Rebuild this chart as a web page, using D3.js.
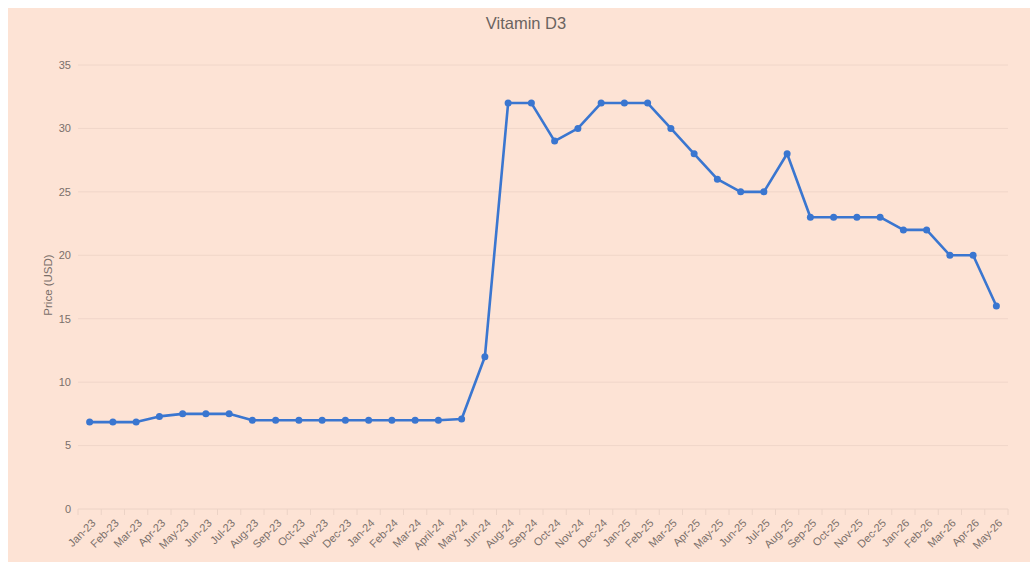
<!DOCTYPE html>
<html>
<head>
<meta charset="utf-8">
<script src="https://cdn.jsdelivr.net/npm/d3@7"></script>
<style>
  body { margin: 0; background: #fff; }
  text { font-family: "Liberation Sans", Arial, sans-serif; }
</style>
</head>
<body>
<script>
var months = ["Jan-23", "Feb-23", "Mar-23", "Apr-23", "May-23", "Jun-23", "Jul-23", "Aug-23",
  "Sep-23", "Oct-23", "Nov-23", "Dec-23", "Jan-24", "Feb-24", "Mar-24", "April-24", "May-24",
  "Jun-24", "Aug-24", "Sep-24", "Oct-24", "Nov-24", "Dec-24", "Jan-25", "Feb-25", "Mar-25",
  "Apr-25", "May-25", "Jun-25", "Jul-25", "Aug-25", "Sep-25", "Oct-25", "Nov-25", "Dec-25",
  "Jan-26", "Feb-26", "Mar-26", "Apr-26", "May-26"];

var prices = [6.85, 6.85, 6.85, 7.3, 7.5, 7.5, 7.5, 7, 7, 7, 7, 7, 7, 7, 7, 7, 7.1,
  12, 32, 32, 29, 30, 32, 32, 32, 30, 28, 26, 25, 25, 28, 23, 23, 23, 23, 22, 22, 20, 20, 16];

var yTicks = [0, 5, 10, 15, 20, 25, 30, 35];

var width = 1030,
    height = 562,
    plotLeft = 78, plotRight = 1008, plotTop = 65, plotBottom = 509;

var svg = d3.select("body").append("svg")
    .attr("width", width)
    .attr("height", height);

svg.append("rect")
    .attr("x", 8)
    .attr("y", 8)
    .attr("width", width - 8)
    .attr("height", height - 8)
    .attr("fill", "#fde3d5");

var x = d3.scalePoint()
    .domain(months)
    .range([plotLeft, plotRight])
    .padding(0.5);

var y = d3.scaleLinear()
    .domain([0, 35])
    .range([plotBottom, plotTop]);

// horizontal grid
svg.append("g")
  .selectAll("line")
  .data(yTicks)
  .enter().append("line")
    .attr("x1", plotLeft)
    .attr("x2", plotRight)
    .attr("y1", function(d) { return y(d); })
    .attr("y2", function(d) { return y(d); })
    .attr("stroke", function(d) { return d === 0 ? "#ecd3c6" : "#f0d6c9"; })
    .attr("stroke-width", 1);

// y labels
svg.append("g")
  .selectAll("text")
  .data(yTicks)
  .enter().append("text")
    .attr("x", plotLeft - 7)
    .attr("y", function(d) { return y(d); })
    .attr("dy", "0.35em")
    .attr("text-anchor", "end")
    .attr("font-size", 11)
    .attr("fill", "#7a6f6a")
    .text(function(d) { return d; });

// x ticks at band boundaries
var step = x.step();
svg.append("g")
  .selectAll("line")
  .data(d3.range(months.length + 1))
  .enter().append("line")
    .attr("x1", function(i) { return plotLeft + i * step; })
    .attr("x2", function(i) { return plotLeft + i * step; })
    .attr("y1", plotBottom)
    .attr("y2", plotBottom + 6)
    .attr("stroke", "#ecd3c6");

// x labels
svg.append("g")
  .selectAll("text")
  .data(months)
  .enter().append("text")
    .attr("transform", function(d) { return "translate(" + (x(d) + 4) + "," + (plotBottom + 12) + ")rotate(-45)"; })
    .attr("text-anchor", "end")
    .attr("dy", "0.35em")
    .attr("font-size", 11)
    .attr("fill", "#7a6f6a")
    .text(function(d) { return d; });

// axis title
svg.append("text")
    .attr("transform", "translate(52," + ((plotTop + plotBottom) / 2 - 2) + ")rotate(-90)")
    .attr("text-anchor", "middle")
    .attr("font-size", 11.5)
    .attr("fill", "#7a6f6a")
    .text("Price (USD)");

// chart title
svg.append("text")
    .attr("x", 526)
    .attr("y", 29)
    .attr("text-anchor", "middle")
    .attr("font-size", 16.5)
    .attr("fill", "#6b6360")
    .text("Vitamin D3");

var line = d3.line()
    .x(function(d, i) { return x(months[i]); })
    .y(function(d) { return y(d); });

svg.append("path")
    .datum(prices)
    .attr("fill", "none")
    .attr("stroke", "#3a76d0")
    .attr("stroke-width", 2.6)
    .attr("stroke-linejoin", "round")
    .attr("d", line);

svg.append("g")
  .selectAll("circle")
  .data(prices)
  .enter().append("circle")
    .attr("cx", function(d, i) { return x(months[i]); })
    .attr("cy", function(d) { return y(d); })
    .attr("r", 3.5)
    .attr("fill", "#3a76d0");
</script>
</body>
</html>
